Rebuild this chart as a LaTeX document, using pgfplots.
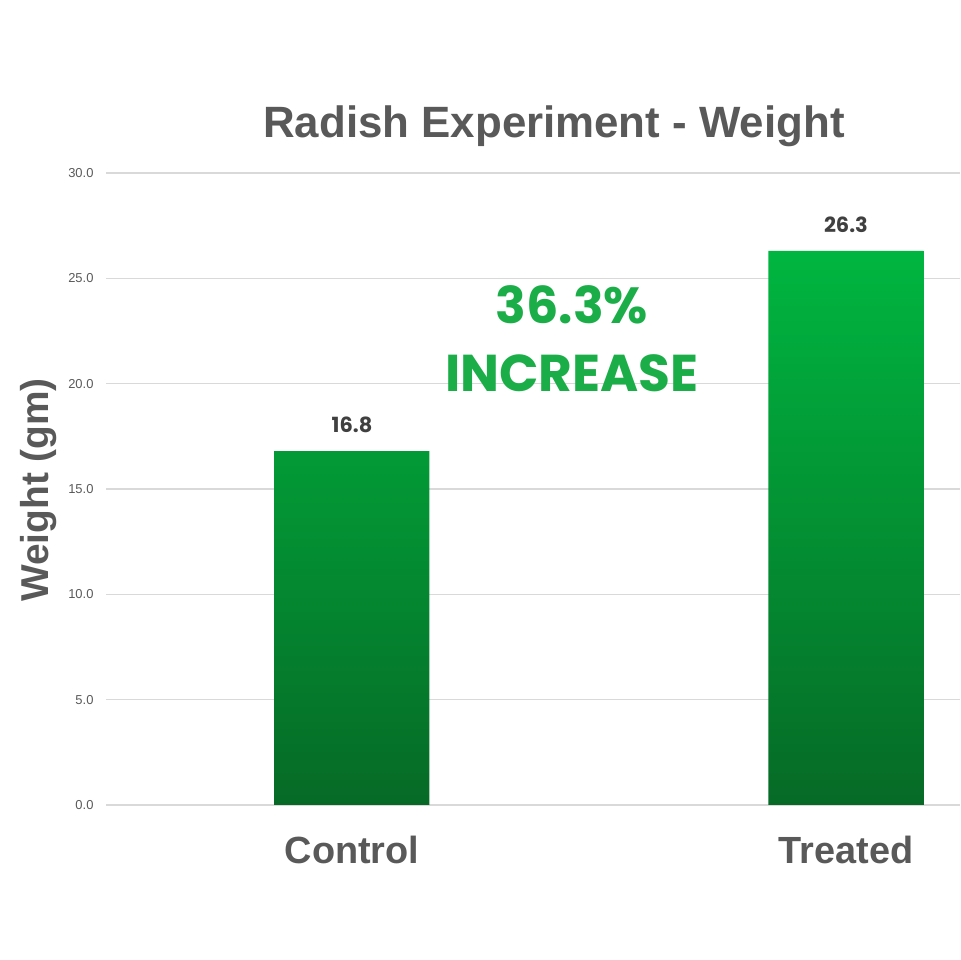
\documentclass[border=0pt]{standalone}
\usepackage{pgfplots}
\pgfplotsset{compat=1.18}
\usepackage{fontspec}
\setmainfont{Liberation Sans}
\newfontfamily\pop{Poppins}
\definecolor{txtgray}{HTML}{595959}
\definecolor{valgray}{HTML}{404040}
\definecolor{gridgray}{HTML}{D9D9D9}
\definecolor{bartop}{HTML}{00B640}
\definecolor{barbot}{HTML}{066A26}
\definecolor{incgreen}{HTML}{1BAE48}

\begin{document}
\begin{tikzpicture}[x=1bp,y=1bp]
\path[use as bounding box] (0,0) rectangle (960,960);

\begin{axis}[
  at={(106bp,155bp)}, anchor=south west,
  scale only axis,
  width=854bp, height=632bp,
  xmin=-0.498, xmax=1.231,
  ymin=0, ymax=30,
  axis line style={draw=none},
  ytick={0,5,...,30},
  ymajorgrids,
  grid style={gridgray, line width=1.2bp},
  major tick length=0pt,
  yticklabel={\pgfmathprintnumber[fixed,fixed zerofill,precision=1]{\tick}},
  /pgf/number format/assume math mode=true,
  yticklabel style={font=\fontsize{13}{15}\selectfont, text=txtgray, xshift=-9bp},
  xtick={0,1},
  xticklabels={Control,Treated},
  xticklabel style={font=\fontsize{38}{44}\selectfont\bfseries, text=txtgray, yshift=-28bp},
  ybar, bar width=155bp,
  nodes near coords,
  nodes near coords style={font=\pop\fontsize{21}{24}\selectfont\bfseries, text=valgray, yshift=15bp},
  point meta=explicit symbolic,
  clip=false,
]
\addplot[draw=none, top color=bartop, bottom color=barbot] coordinates {
  (0,16.8) [16.8]
  (1,26.3) [26.3]
};
\end{axis}

\node[font=\fontsize{44}{50}\selectfont\bfseries, text=txtgray] at (554,834) {Radish Experiment - Weight};
\node[font=\fontsize{39}{44}\selectfont\bfseries, text=txtgray, rotate=90] at (39,470) {Weight (gm)};
\node[font=\pop\fontsize{51}{58}\selectfont\bfseries, text=incgreen] at (572,655) {36.3\%};
\node[font=\pop\fontsize{52}{58}\selectfont\bfseries, text=incgreen] at (572,587) {INCREASE};
\end{tikzpicture}
\end{document}
